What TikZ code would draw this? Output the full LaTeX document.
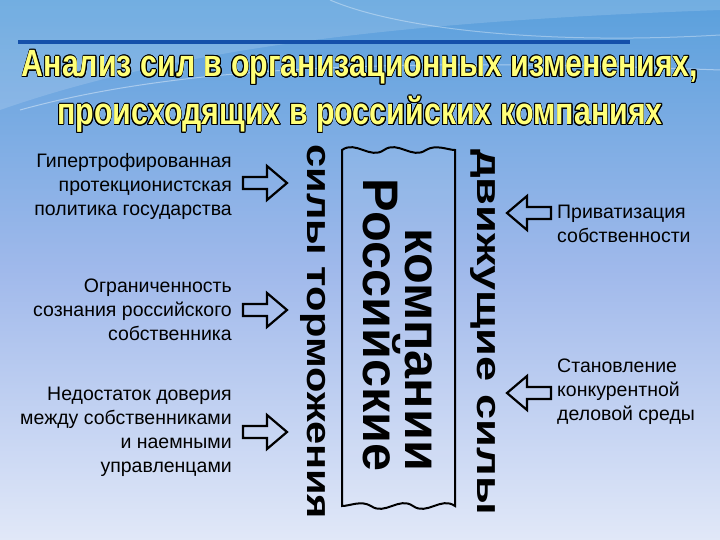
\documentclass[tikz,border=0pt]{standalone}
\usepackage{fontspec}
\setmainfont{Liberation Sans}
\usepackage[copies]{contour}
\contourlength{0.9pt}
\definecolor{bgtop}{RGB}{90,160,220}
\definecolor{bgmid}{RGB}{160,185,235}
\definecolor{bgbot}{RGB}{225,232,248}
\definecolor{titley}{RGB}{255,255,120}
\definecolor{lineblue}{RGB}{20,80,170}
\tikzset{
  lbl/.style={align=right,font=\fontsize{19.5}{24}\selectfont,anchor=east,inner sep=1pt},
  rlbl/.style={align=left,font=\fontsize{19.5}{24}\selectfont,anchor=west,inner sep=1pt},
  vert/.style={rotate=-90,font=\bfseries\fontsize{26}{28}\selectfont},
  harrow/.style={draw=black,line width=2.2pt,fill=none,line join=miter}
}
\newcommand{\hollowR}[2]{% x, y : tail left, points right
  \draw[harrow] (#1,#2-6) -- (#1+24,#2-6) -- (#1+24,#2-17) -- (#1+44,#2) -- (#1+24,#2+17) -- (#1+24,#2+6) -- (#1,#2+6) -- cycle;}
\newcommand{\hollowL}[2]{% x, y : tip left
  \draw[harrow] (#1+44,#2-6) -- (#1+20,#2-6) -- (#1+20,#2-17) -- (#1,#2) -- (#1+20,#2+17) -- (#1+20,#2+6) -- (#1+44,#2+6) -- cycle;}
\begin{document}
\begin{tikzpicture}[x=1pt,y=-1pt]
\useasboundingbox (0,0) rectangle (720,540);
\shade[top color=bgtop,bottom color=bgbot,middle color=bgmid] (0,0) rectangle (720,540);
\fill[white,opacity=0.15] (0,110) .. controls (200,40) and (450,20) .. (720,10) -- (720,0) -- (0,0) -- cycle;
\draw[white,opacity=0.4,line width=1pt] (20,110) .. controls (200,60) and (450,60) .. (720,70);
\draw[white,opacity=0.35,line width=1pt] (330,0) .. controls (400,30) and (550,45) .. (720,35);
\draw[lineblue,line width=3.5pt] (18,42) -- (630,42);
\node (title) at (360,92) [align=center,font=\bfseries\fontsize{38}{48}\selectfont,text=titley,xscale=0.8]
  {\contour{black}{Анализ сил в организационных изменениях,}\\\contour{black}{происходящих в российских компаниях}};
% central box
\coordinate (tl) at (342,150); \coordinate (tr) at (455,150);
\coordinate (bl) at (342,506); \coordinate (br) at (455,506);
\draw[line width=2pt,fill=white,fill opacity=0.08] (tl) .. controls (356,140) and (370,160) .. (384,150) .. controls (398,140) and (412,160) .. (426,150) .. controls (436,144) and (448,150) .. (tr)
  -- (br) .. controls (441,496) and (427,516) .. (413,506) .. controls (399,496) and (385,516) .. (371,506) .. controls (361,500) and (350,506) .. (bl) -- cycle;
\node (comp) at (398,325) [rotate=-90,align=center,font=\bfseries\fontsize{37}{34}\selectfont] {\scalebox{1.36}[1.35]{\shortstack[r]{компании\\Российские}}};
\node (brake) at (313,332) [vert] {\scalebox{1.6}[1.3]{силы торможения}};
\node (drive) at (483,332) [vert] {\scalebox{1.74}[1.3]{движущие силы}};
% left labels
\node (l1) at (233,186) [lbl] {Гипертрофированная\\протекционистская\\политика государства};
\node (l2) at (233,310) [lbl] {Ограниченность\\сознания российского\\собственника};
\node (l3) at (233,432) [lbl] {Недостаток доверия\\между собственниками\\и наемными\\управленцами};
\node (r1) at (556,224) [rlbl] {Приватизация\\собственности};
\node (r2) at (556,392) [rlbl] {Становление\\конкурентной\\деловой среды};
\hollowR{243}{183}
\hollowR{243}{310}
\hollowR{243}{432}
\hollowL{507}{213}
\hollowL{507}{393}
\end{tikzpicture}
\end{document}
